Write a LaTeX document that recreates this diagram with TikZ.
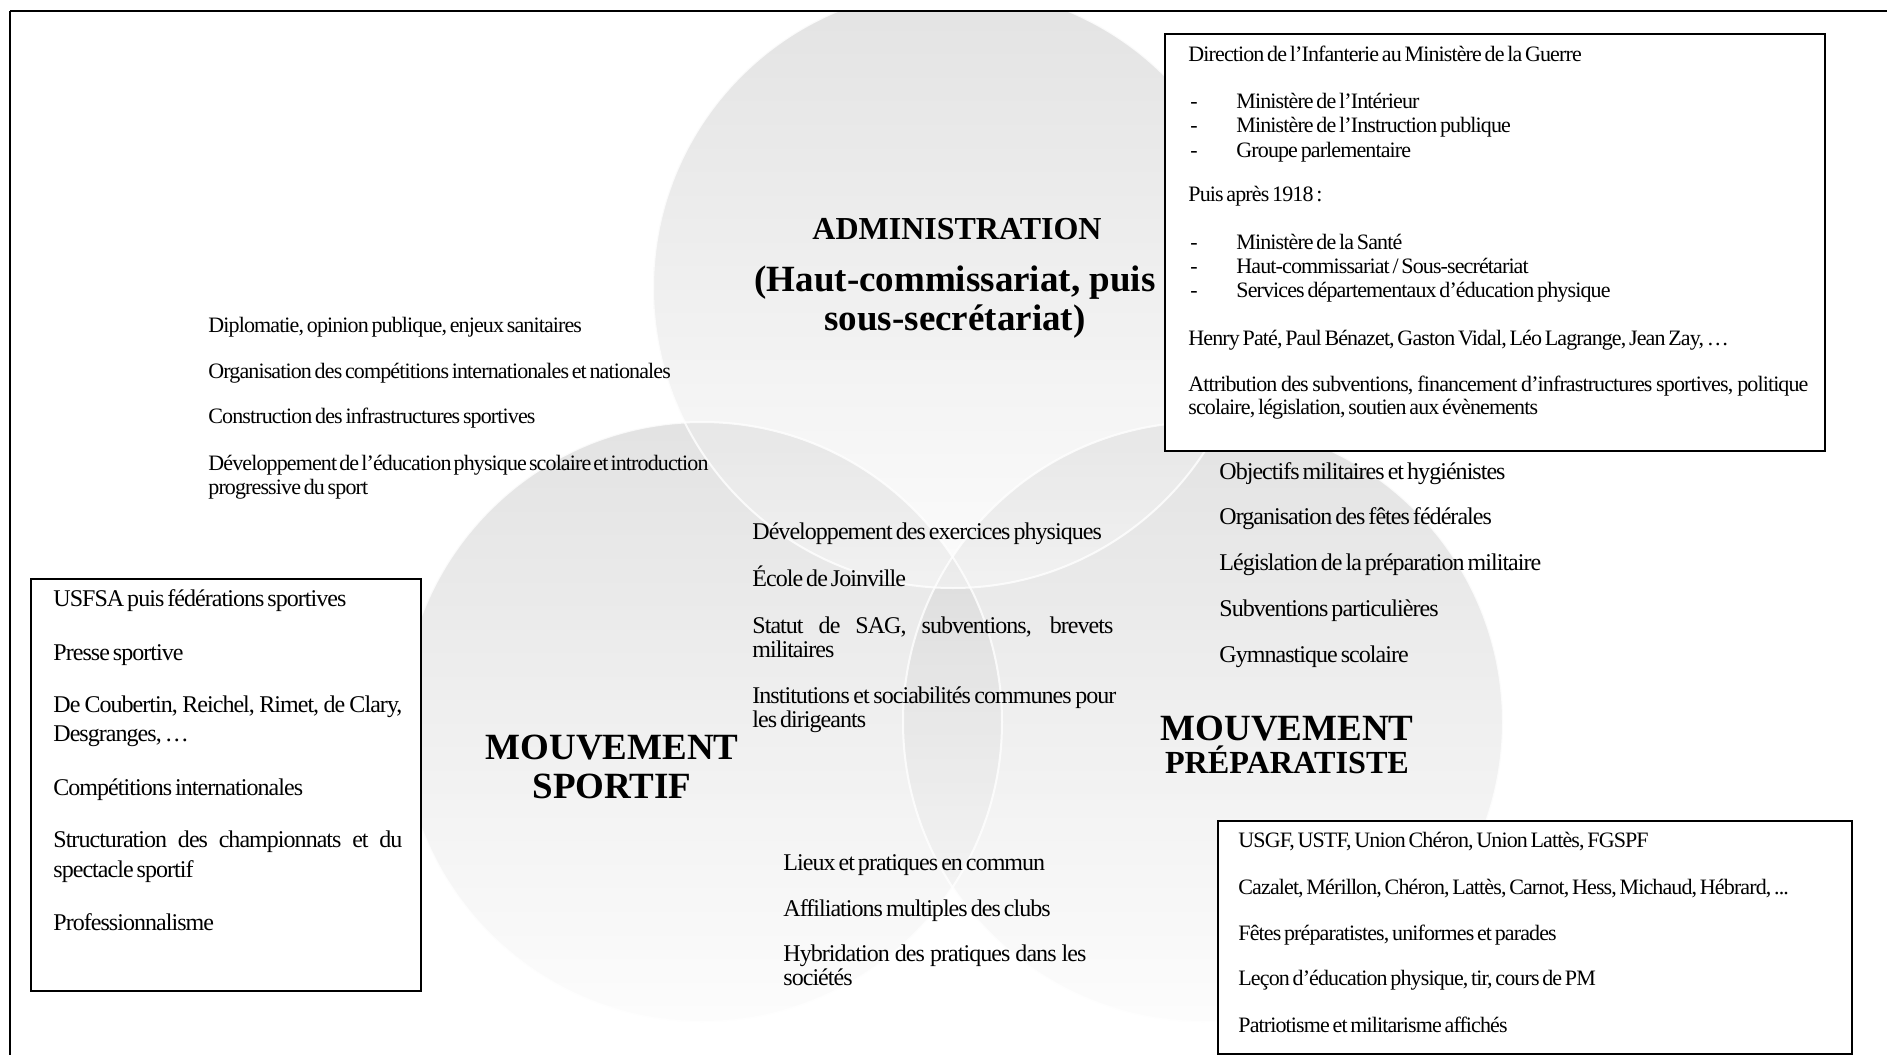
\documentclass[tikz,border=0pt]{standalone}
\usepackage{fontspec}
\setmainfont{Liberation Serif}
\newfontfamily\bodyf{Liberation Serif}[LetterSpace=-4,WordSpace=0.6]
\newcommand\jline[2]{\makebox[#1][s]{#2}}
\begin{document}
\begin{tikzpicture}[x=0.5pt,y=-0.5pt,
  bt/.style={font=\bodyf\fontsize{11}{12}\selectfont, anchor=base west, inner sep=0pt},
  btL/.style={font=\bodyf\fontsize{12}{13}\selectfont, anchor=base west, inner sep=0pt},
  hdA/.style={font=\bfseries\fontsize{16}{18}\selectfont, anchor=base, inner sep=0pt},
  hdB/.style={font=\bfseries\fontsize{18.5}{20}\selectfont, anchor=base, inner sep=0pt},
  hdC/.style={font=\bfseries\fontsize{16.1}{18}\selectfont, anchor=base, inner sep=0pt},
  boxst/.style={draw=black, line width=1.2pt, fill=white},
  venn/.style={top color=black!22, bottom color=black!2, fill opacity=0.5},
  vedge/.style={draw=white, line width=1pt, opacity=0.8}]
\useasboundingbox (0,0) rectangle (1887,1055);
% circles
\begin{scope}
\clip (10,11) rectangle (1887,1055);
\coordinate (cL) at (702,722);
\coordinate (cR) at (1203,722);
\coordinate (cT) at (953,288);
\foreach \c in {cL,cR,cT}{
  \shade[venn] (\c) circle [radius=300];
}
\foreach \c in {cL,cR,cT}{
  \draw[vedge] (\c) circle [radius=300];
}
\end{scope}
% frame
\draw[line width=1.3pt] (10,1055) -- (10,11);
\draw[line width=0.8pt] (10,11) -- (1887,11);
% boxes
\draw[boxst] (1165,34) rectangle (1825,451);
\draw[boxst] (31,579) rectangle (421,991);
\draw[boxst] (1218,821) rectangle (1852,1054);
% headings
\node[hdA] (hAdm) at (957,239) {ADMINISTRATION};
\node[hdB] (hAdm2) at (955,291) {(Haut-commissariat, puis};
\node[hdB] (hAdm3) at (955,330) {sous-secrétariat)};
\node[hdB] (hSp1) at (612,759) {MOUVEMENT};
\node[hdB] (hSp2) at (612,798) {SPORTIF};
\node[hdB] (hPr1) at (1287,740) {MOUVEMENT};
\node[hdC] (hPr2) at (1287,773) {PRÉPARATISTE};
% top-right box text
\node[bt] (a1) at (1188,61) {Direction de l’Infanterie au Ministère de la Guerre};
\node[bt] (a2d) at (1190,108) {-};
\node[bt] (a2) at (1236,108) {Ministère de l’Intérieur};
\node[bt] (a3d) at (1190,132) {-};
\node[bt] (a3) at (1236,132) {Ministère de l’Instruction publique};
\node[bt] (a4d) at (1190,157) {-};
\node[bt] (a4) at (1236,157) {Groupe parlementaire};
\node[bt] (a5) at (1188,201) {Puis après 1918 :};
\node[bt] (a6d) at (1190,249) {-};
\node[bt] (a6) at (1236,249) {Ministère de la Santé};
\node[bt] (a7d) at (1190,273) {-};
\node[bt] (a7) at (1236,273) {Haut-commissariat / Sous-secrétariat};
\node[bt] (a8d) at (1190,297) {-};
\node[bt] (a8) at (1236,297) {Services départementaux d’éducation physique};
\node[bt] (a9) at (1188,345) {Henry Paté, Paul Bénazet, Gaston Vidal, Léo Lagrange, Jean Zay, \dots};
\node[bt] (a10) at (1188,391) {\jline{310pt}{Attribution des subventions, financement d’infrastructures sportives, politique}};
\node[bt] (a11) at (1188,414) {scolaire, législation, soutien aux évènements};
% left free text
\node[bt] (l1) at (208,332) {Diplomatie, opinion publique, enjeux sanitaires};
\node[bt] (l2) at (208,378) {Organisation des compétitions internationales et nationales};
\node[bt] (l3) at (208,423) {Construction des infrastructures sportives};
\node[bt] (l4) at (208,470) {\jline{250pt}{Développement de l’éducation physique scolaire et introduction}};
\node[bt] (l5) at (208,494) {progressive du sport};
% left box
\node[btL] (s1) at (53,606) {USFSA puis fédérations sportives};
\node[btL] (s2) at (53,660) {Presse sportive};
\node[btL] (s3) at (53,712) {\jline{174.5pt}{De Coubertin, Reichel, Rimet, de Clary,}};
\node[btL] (s4) at (53,741) {Desgranges, \dots};
\node[btL] (s5) at (53,795) {Compétitions internationales};
\node[btL] (s6) at (53,847) {\jline{174.5pt}{Structuration des championnats et du}};
\node[btL] (s7) at (53,877) {spectacle sportif};
\node[btL] (s8) at (53,930) {Professionnalisme};
% center
\node[btL] (c1) at (752,539) {Développement des exercices physiques};
\node[btL] (c2) at (752,586) {École de Joinville};
\node[btL] (c3) at (752,633) {\jline{180.5pt}{Statut de SAG, subventions, brevets}};
\node[btL] (c4) at (752,657) {militaires};
\node[btL] (c5) at (752,703) {\jline{182pt}{Institutions et sociabilités communes pour}};
\node[btL] (c6) at (752,727) {les dirigeants};
% bottom center
\node[btL] (b1) at (783,870) {Lieux et pratiques en commun};
\node[btL] (b2) at (783,916) {Affiliations multiples des clubs};
\node[btL] (b3) at (783,961) {\jline{151.5pt}{Hybridation des pratiques dans les}};
\node[btL] (b4) at (783,985) {sociétés};
% right
\node[btL] (r1) at (1219,479) {Objectifs militaires et hygiénistes};
\node[btL] (r2) at (1219,524) {Organisation des fêtes fédérales};
\node[btL] (r3) at (1219,570) {Législation de la préparation militaire};
\node[btL] (r4) at (1219,616) {Subventions particulières};
\node[btL] (r5) at (1219,662) {Gymnastique scolaire};
% bottom-right box
\node[bt] (p1) at (1238,847) {USGF, USTF, Union Chéron, Union Lattès, FGSPF};
\node[bt] (p2) at (1238,894) {Cazalet, Mérillon, Chéron, Lattès, Carnot, Hess, Michaud, Hébrard, ...};
\node[bt] (p3) at (1238,940) {Fêtes préparatistes, uniformes et parades};
\node[bt] (p4) at (1238,985) {Leçon d’éducation physique, tir, cours de PM};
\node[bt] (p5) at (1238,1032) {Patriotisme et militarisme affichés};
\end{tikzpicture}
\end{document}
